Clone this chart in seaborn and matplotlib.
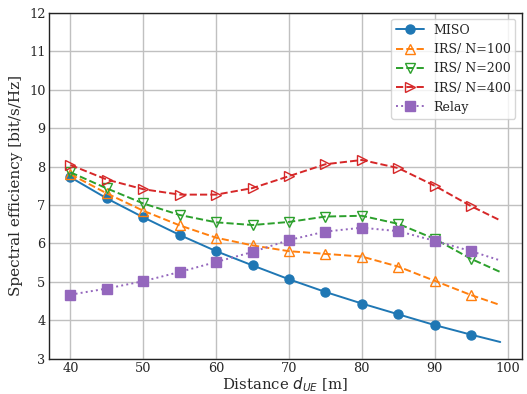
import numpy as np
import pandas as pd
import matplotlib
matplotlib.use("Agg")
import matplotlib.pyplot as plt
import seaborn as sns

# distance grid (markers every 5 m, curve ends at 99 m)
distance = [40, 45, 50, 55, 60, 65, 70, 75, 80, 85, 90, 95, 99]

miso = [7.72, 7.17, 6.68, 6.22, 5.80, 5.43, 5.07, 4.74, 4.44, 4.16, 3.88, 3.63, 3.44]
irs_100 = [7.80, 7.30, 6.85, 6.47, 6.15, 5.95, 5.80, 5.73, 5.66, 5.40, 5.03, 4.66, 4.40]
irs_200 = [7.85, 7.43, 7.04, 6.74, 6.55, 6.48, 6.56, 6.70, 6.72, 6.51, 6.12, 5.60, 5.26]
irs_400 = [8.04, 7.66, 7.41, 7.27, 7.27, 7.44, 7.75, 8.06, 8.17, 7.96, 7.50, 6.97, 6.60]
relay = [4.67, 4.83, 5.02, 5.26, 5.52, 5.78, 6.09, 6.31, 6.41, 6.32, 6.07, 5.80, 5.56]

series = {
    "MISO": miso,
    "IRS/ N=100": irs_100,
    "IRS/ N=200": irs_200,
    "IRS/ N=400": irs_400,
    "Relay": relay,
}
df = pd.concat([pd.DataFrame({"Distance": distance, "SE": v, "Scheme": k})
                for k, v in series.items()], ignore_index=True)

sns.set_style("ticks")
plt.rcParams["font.family"] = ["DejaVu Serif"]
plt.rcParams["mathtext.fontset"] = "dejavusans"

styles = {
    "MISO": dict(color="tab:blue", marker="o", linestyle="-", mfc="tab:blue", ms=6.5),
    "IRS/ N=100": dict(color="tab:orange", marker="^", linestyle="--", mfc="none", ms=7),
    "IRS/ N=200": dict(color="tab:green", marker="v", linestyle="--", mfc="none", ms=7),
    "IRS/ N=400": dict(color="tab:red", marker=">", linestyle="--", mfc="none", ms=7),
    "Relay": dict(color="tab:purple", marker="s", linestyle=":", mfc="tab:purple", ms=6.5),
}

fig, ax = plt.subplots(figsize=(5.27, 3.94), dpi=100)
fig.subplots_adjust(left=0.093, right=0.99, top=0.968, bottom=0.089)

mark_idx = list(range(len(distance) - 1))
for name in series:
    st = styles[name]
    sns.lineplot(data=df[df["Scheme"] == name], x="Distance", y="SE", ax=ax,
                 color=st["color"], linestyle=st["linestyle"], marker=st["marker"],
                 markerfacecolor=st["mfc"], markeredgecolor=st["color"],
                 markersize=st["ms"], markeredgewidth=1.0, linewidth=1.4,
                 markevery=mark_idx, label=name, sort=False)

ax.set_ylim(3, 12)
ax.set_xticks(np.arange(40, 101, 10))
ax.set_yticks(np.arange(3, 13, 1))
ax.grid(True, color="#c0c0c0", linewidth=1.0)
ax.set_xlabel("Distance $d_{UE}$ [m]", fontsize=10.7, labelpad=0)
ax.set_ylabel("Spectral efficiency [bit/s/Hz]", fontsize=11)
ax.tick_params(labelsize=9.3, length=0, pad=2.5)
for s in ax.spines.values():
    s.set_linewidth(1.0)
    s.set_color("#222222")

ax.legend(loc="upper right", fontsize=9, handlelength=2.2, framealpha=0.8)

plt.savefig("out.png", dpi=100)
